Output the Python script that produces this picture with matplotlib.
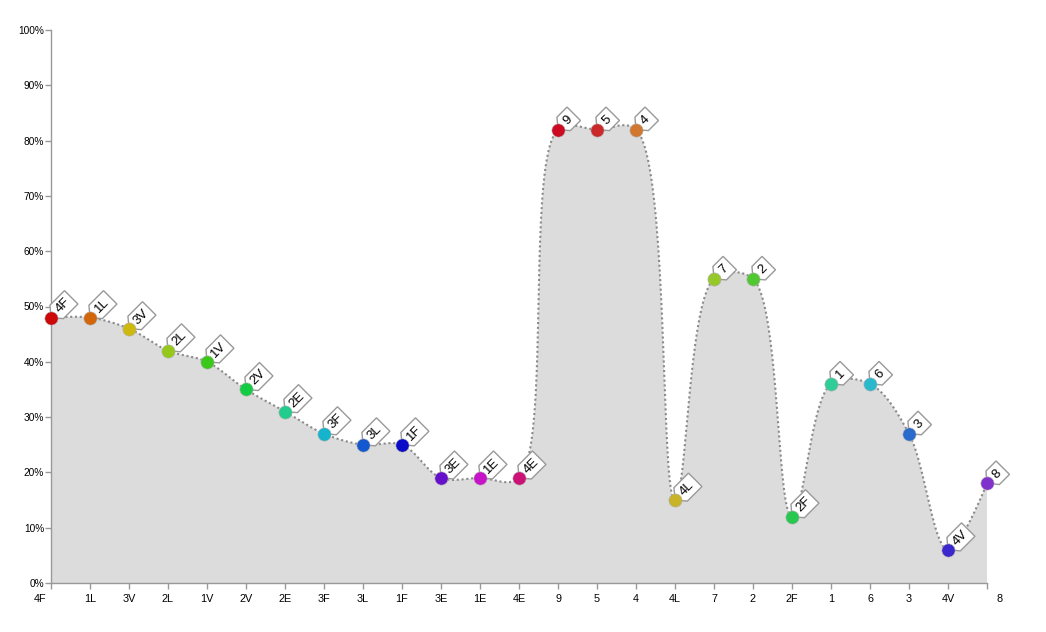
import matplotlib
matplotlib.use("Agg")
import matplotlib.pyplot as plt
import matplotlib.transforms as mtransforms
from matplotlib.patches import Polygon
import numpy as np

plt.rcParams['font.family'] = ['Liberation Sans', 'DejaVu Sans']

# Datos del gráfico
categorias = ['4F', '1L', '3V', '2L', '1V', '2V', '2E', '3F', '3L', '1F', '3E', '1E', '4E',
              '9', '5', '4', '4L', '7', '2', '2F', '1', '6', '3', '4V', '8']
valores = [48, 48, 46, 42, 40, 35, 31, 27, 25, 25, 19, 19, 19,
           82, 82, 82, 15, 55, 55, 12, 36, 36, 27, 6, 18]
colores = ['#cc0808', '#d2660a', '#cdb90f', '#95c81a', '#3ac81a', '#14cc44', '#22cc8c',
           '#14b4cc', '#1458d0', '#0a0ac8', '#6610cc', '#c814c8', '#cc1177', '#cc0a22',
           '#cc2a2a', '#d07830', '#c8b428', '#96c82a', '#50c832', '#28c850', '#30cc99',
           '#2ab8cc', '#2a6acc', '#3a28cc', '#8032cc']
ticks_y = [0, 10, 20, 30, 40, 50, 60, 70, 80, 90, 100]

# escala aproximada en píxeles (para la curva centrípeta)
PX_X = 936 / (len(categorias) - 1)
PX_Y = 553 / 100


# Catmull-Rom centrípeta (alpha=0.5), calculada en píxeles
def curva_catmull(x, y, alpha=0.5, pasos=40):
    p = np.column_stack([np.asarray(x, float) * PX_X, np.asarray(y, float) * PX_Y])
    n = len(p)
    pts = [p[:1]]
    t = np.linspace(0, 1, pasos + 1)[1:, None]
    for i in range(n - 1):
        p1, p2 = p[i], p[i + 1]
        p0 = p[i - 1] if i > 0 else None
        p3 = p[i + 2] if i + 2 < n else None
        d12 = np.sum((p2 - p1) ** 2) ** alpha
        l12_a, l12_2a = np.sqrt(d12), d12
        c1 = p1.copy()
        if p0 is not None:
            d01 = np.sum((p1 - p0) ** 2) ** alpha
            l01_a, l01_2a = np.sqrt(d01), d01
            a = 2 * l01_2a + 3 * l01_a * l12_a + l12_2a
            nn = 3 * l01_a * (l01_a + l12_a)
            c1 = (p1 * a - p0 * l12_2a + p2 * l01_2a) / nn
        c2 = p2.copy()
        if p3 is not None:
            d23 = np.sum((p3 - p2) ** 2) ** alpha
            l23_a, l23_2a = np.sqrt(d23), d23
            b = 2 * l23_2a + 3 * l23_a * l12_a + l12_2a
            mm = 3 * l23_a * (l23_a + l12_a)
            c2 = (p2 * b + p1 * l23_2a - p3 * l12_2a) / mm
        seg = ((1 - t) ** 3 * p1 + 3 * (1 - t) ** 2 * t * c1
               + 3 * (1 - t) * t ** 2 * c2 + t ** 3 * p2)
        pts.append(seg)
    pts = np.vstack(pts)
    return pts[:, 0] / PX_X, pts[:, 1] / PX_Y


fig = plt.figure(figsize=(10.46, 6.32), dpi=100)
ax = fig.add_axes([51 / 1046, 49 / 632, 936 / 1046, 553 / 632])

x = np.arange(len(categorias))
xs, ys = curva_catmull(x, valores)
ax.fill(np.r_[xs, xs[-1], xs[0]], np.r_[ys, 0, 0], color='#dcdcdc', lw=0, zorder=1)
ax.plot(xs, ys, color='#8a8a8a', lw=1.5, ls=(0, (1, 1.3)), zorder=2)

# Etiquetas en forma de banderín
for i, (cat, val, col) in enumerate(zip(categorias, valores, colores)):
    largo = 16 + 6.3 * len(cat)
    w = 9.5
    a = 8
    verts = [(0, 0), (a, w), (largo, w), (largo, -w), (a, -w)]
    tr = (mtransforms.Affine2D().rotate_deg(45)
          + mtransforms.ScaledTranslation(i, val, ax.transData))
    ax.add_patch(Polygon(verts, closed=True, transform=tr, facecolor='white',
                         edgecolor='#999999', lw=1, zorder=3, clip_on=False))
    u = (a + largo) / 2 - 1.5
    ttr = (mtransforms.Affine2D().translate(u * np.cos(np.pi / 4), u * np.sin(np.pi / 4))
           + mtransforms.ScaledTranslation(i, val, ax.transData))
    ax.text(0, 0, cat, transform=ttr, rotation=45, ha='center', va='center',
            rotation_mode='anchor', fontsize=9.5, color='black', zorder=4, clip_on=False)
    ax.plot(i, val, 'o', ms=9.5, color=col, mec='#b0b0b0', mew=0.4, zorder=5, clip_on=False)

ax.set_xlim(0, len(categorias) - 1)
ax.set_ylim(0, 100)
ax.set_xticks(x)
ax.set_xticklabels(categorias, fontsize=7.8)
ax.set_yticks(ticks_y)
ax.set_yticklabels([f'{v}%' for v in ticks_y], fontsize=7.3)

for s in ['top', 'right']:
    ax.spines[s].set_visible(False)
for s in ['left', 'bottom']:
    ax.spines[s].set_color('#999999')
    ax.spines[s].set_linewidth(1)
ax.tick_params(axis='both', colors='#999999', labelcolor='black', length=4, width=1)
ax.tick_params(axis='x', pad=4)
ax.tick_params(axis='y', pad=1)

# Desplazar la primera y última etiqueta del eje x
etiquetas = ax.get_xticklabels()
etiquetas[0].set_transform(etiquetas[0].get_transform() + mtransforms.Affine2D().translate(-11, 0))
etiquetas[-1].set_transform(etiquetas[-1].get_transform() + mtransforms.Affine2D().translate(13, 0))

fig.savefig('out.png', dpi=100)
